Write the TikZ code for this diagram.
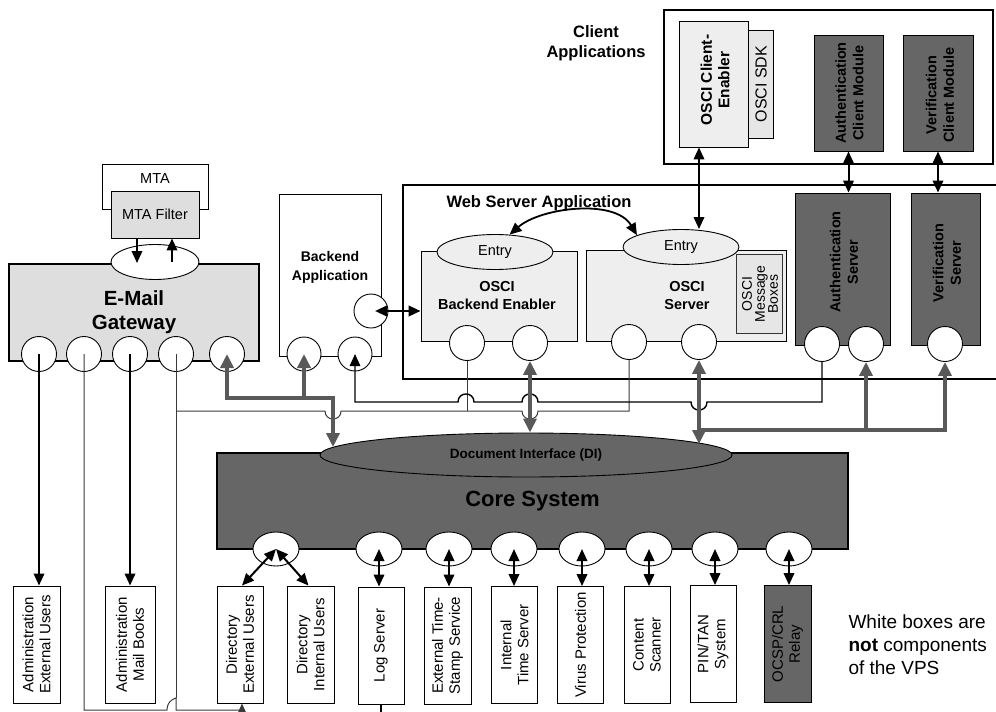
\documentclass[tikz,border=0pt]{standalone}
\usepackage{fontspec}
\setmainfont{Liberation Sans}
\usetikzlibrary{arrows.meta,shapes.geometric,calc}

\definecolor{paleFill}{HTML}{EEEEEE}
\definecolor{softFill}{HTML}{DEDEDE}
\definecolor{sdkFill}{HTML}{E6E6E6}
\definecolor{darkFill}{HTML}{666666}
\definecolor{pipeCol}{HTML}{595959}
\definecolor{wireCol}{HTML}{3A3A3A}

\newcommand{\fsz}[2]{\fontsize{#1}{#2}\selectfont}

\begin{document}
\begin{tikzpicture}[x=1pt,y=-1pt,
  box/.style={draw, line width=0.9pt, inner sep=0pt},
  heavybox/.style={draw, line width=2pt, inner sep=0pt},
  port/.style={circle, draw, fill=white, line width=0.9pt, minimum size=35pt, inner sep=0pt},
  cport/.style={ellipse, draw, fill=white, line width=0.9pt, minimum width=46pt, minimum height=34pt, inner sep=0pt},
  entry/.style={ellipse, draw, fill=paleFill, line width=0.9pt, minimum width=116pt, minimum height=35pt, inner sep=0pt, font=\fsz{14.5}{17}},
  vbox/.style={box, fill=white, minimum width=46pt, minimum height=117pt},
  vtxt/.style={rotate=90, align=center, font=\fsz{15}{17}},
  vbold/.style={rotate=90, align=center, font=\bfseries\fsz{14.5}{17.5}},
  btxt/.style={align=center, font=\bfseries\fsz{14.5}{18}},
  blk/.style={line width=2pt, draw=black, >={Triangle[length=12pt,width=10.5pt]}},
  wire/.style={line width=1pt, draw=wireCol, >={Triangle[length=12pt,width=10.5pt]}},
  pipe/.style={line width=4pt, draw=pipeCol, >={Triangle[length=14pt,width=13pt]}}
]
\useasboundingbox (0,0) rectangle (996,712);
\clip (0,0) rectangle (996,712);

% ---------- mail transfer agent ----------
\node[box, minimum width=106pt, minimum height=45pt] (mta) at (155,186.5) {};
\node[font=\fsz{14.5}{17}] (mta-t) at (155,179) {MTA};
\node[box, fill=softFill, minimum width=88pt, minimum height=47pt, font=\fsz{14.5}{17}] (mtaf) at (155,214.5) {MTA Filter};

% ---------- e-mail gateway ----------
\node[heavybox, fill=softFill, minimum width=250pt, minimum height=97pt, align=center,
      font=\bfseries\fsz{20.5}{23.5}] (gw) at (134,312) {E-Mail\\Gateway};
\node[ellipse, draw, fill=white, line width=0.9pt, minimum width=88pt, minimum height=35pt, inner sep=0pt] (gwin) at (155,262) {};
\node[port] (g1) at (39,354) {};
\node[port] (g2) at (84,354) {};
\node[port] (g3) at (130,354) {};
\node[port] (g4) at (176,354) {};
\node[port] (g5) at (227,354) {};

% ---------- backend application ----------
\node[box, minimum width=102pt, minimum height=162pt] (bapp) at (330,275) {};
\node[btxt, font=\bfseries\fsz{14}{19}] (bapp-t) at (330,267) {Backend\\Application};
\node[port, minimum size=34pt] (bside) at (371,311) {};
\node[port, minimum size=34pt] (bp1) at (304,354) {};
\node[port, minimum size=34pt] (bp2) at (355,354) {};

% ---------- web server application ----------
\node[heavybox, minimum width=607pt, minimum height=194pt] (wsa) at (706.5,282) {};
\node[anchor=west, font=\bfseries\fsz{16.5}{19}] (wsa-t) at (443,203) {Web Server Application};

\node[box, fill=paleFill, minimum width=156pt, minimum height=90pt] (obe) at (499,296) {};
\node[btxt] (obe-t) at (497,296) {OSCI\\Backend Enabler};
\node[entry] (bentry) at (495,252) {Entry};
\node[port] (be1) at (467,343) {};
\node[port] (be2) at (530,343) {};

\node[box, fill=paleFill, minimum width=200pt, minimum height=91pt] (osrv) at (686,295.5) {};
\node[btxt] (osrv-t) at (687,296) {OSCI\\Server};
\node[box, fill=sdkFill, draw=black!80, minimum width=46pt, minimum height=79pt] (omb) at (759,293.5) {};
\node[rotate=90, align=center, font=\fsz{14}{13}] (omb-t) at (760,294) {OSCI\\Message\\Boxes};
\node[entry] (sentry) at (681,247) {Entry};
\node[port] (sp1) at (629,342) {};
\node[port] (sp2) at (699,342) {};

\node[box, fill=darkFill, minimum width=95pt, minimum height=152pt] (asrv) at (842.5,269) {};
\node[vbold] (asrv-t) at (844,262) {Authentication\\Server};
\node[box, fill=darkFill, minimum width=69pt, minimum height=152pt] (vsrv) at (945.5,269) {};
\node[vbold] (vsrv-t) at (947,263) {Verification\\Server};
\node[port] (ap1) at (822,344) {};
\node[port] (ap2) at (866,344) {};
\node[port] (vp1) at (945,344) {};

% ---------- client applications ----------
\node[heavybox, minimum width=329pt, minimum height=154pt] (capp) at (828.5,87) {};
\node[btxt, font=\bfseries\fsz{16.5}{20}] (capp-t) at (596,43) {Client\\Applications};
\node[box, fill=sdkFill, minimum width=25pt, minimum height=108pt] (sdk) at (760.5,84) {};
\node[rotate=90, font=\fsz{16}{18}] (sdk-t) at (761,84) {OSCI SDK};
\node[box, fill=paleFill, minimum width=69pt, minimum height=126pt] (cen) at (713.5,84) {};
\node[vbold, font=\bfseries\fsz{15.5}{17.5}] (cen-t) at (715,80) {OSCI Client-\\Enabler};
\node[box, fill=darkFill, minimum width=69pt, minimum height=116pt] (acm) at (848.5,93) {};
\node[vbold] (acm-t) at (849.5,93) {Authentication\\Client Module};
\node[box, fill=darkFill, minimum width=70pt, minimum height=116pt] (vcm) at (938,93) {};
\node[vbold] (vcm-t) at (940,95) {Verification\\Client Module};

% ---------- core system ----------
\node[heavybox, fill=darkFill, minimum width=631pt, minimum height=96pt,
      font=\bfseries\fsz{22}{26}] (core) at (532.5,501) {Core System};
\node[ellipse, draw, fill=darkFill, line width=0.9pt, minimum width=412pt, minimum height=44pt,
      inner sep=0pt, font=\bfseries\fsz{13.5}{16}] (di) at (526,455) {Document Interface (DI)};
\node[cport] (cp1) at (276,549) {};
\node[cport] (cp2) at (379,549) {};
\node[cport] (cp3) at (449,549) {};
\node[cport] (cp4) at (514,549) {};
\node[cport] (cp5) at (582,549) {};
\node[cport] (cp6) at (649,549) {};
\node[cport] (cp7) at (715,549) {};
\node[cport] (cp8) at (789,549) {};

% ---------- external services ----------
\node[vbox, minimum width=47pt] (adminext) at (36.5,644.5) {};
\node[vtxt] (adminext-t) at (adminext) {Administration\\External Users};
\node[vbox, minimum width=50pt] (adminmail) at (130,644.5) {};
\node[vtxt] (adminmail-t) at (adminmail) {Administration\\Mail Books};
\node[vbox] (dirext) at (240,644.5) {};
\node[vtxt] (dirext-t) at (dirext) {Directory\\External Users};
\node[vbox, minimum width=47pt] (dirint) at (310.5,644.5) {};
\node[vtxt] (dirint-t) at (dirint) {Directory\\Internal Users};
\node[vbox] (log) at (381,645.5) {};
\node[vtxt] (log-t) at (log) {Log Server};
\node[vbox, minimum width=47pt] (extts) at (447.5,645.5) {};
\node[vtxt] (extts-t) at (extts) {External Time-\\Stamp Service};
\node[vbox] (ints) at (514.5,645) {};
\node[vtxt] (ints-t) at (ints) {Internal\\Time Server};
\node[vbox] (virus) at (580.5,645) {};
\node[vtxt] (virus-t) at (virus) {Virus Protection};
\node[vbox] (content) at (647,645) {};
\node[vtxt] (content-t) at (content) {Content\\Scanner};
\node[vbox] (pintan) at (713,644) {};
\node[vtxt] (pintan-t) at (pintan) {PIN/TAN\\System};
\node[vbox, fill=darkFill, minimum width=47pt] (ocsp) at (787.5,644) {};
\node[vtxt] (ocsp-t) at (ocsp) {OCSP/CRL\\Relay};

\node[anchor=west, align=left, font=\fsz{19}{23}] (legend) at (845,645)
  {White boxes are\\\textbf{not} components\\of the VPS};

% ================= connectors =================
% MTA filter <-> gateway inlet
\draw[blk,->] ($(mtaf.south)+(-18,0)$) -- ($(gwin.center)+(-18,1)$);
\draw[blk,->] ($(gwin.center)+(17,0)$) -- ($(mtaf.south)+(17,0)$);

% backend application <-> OSCI backend enabler
\draw[blk,<->,line width=2.5pt] ($(bside.center)+(4,0)$) -- (bside -| obe.west);

% client side links
\draw[blk,<->] (cen.south -| sp2) -- (sentry.north -| sp2);
\draw[blk,<->] (acm.south) -- (acm.south |- asrv.north);
\draw[blk,<->] (vcm.south) -- (vcm.south |- vsrv.north);

% entry to entry
\draw[blk,<->,line width=1.8pt] (bentry.50) .. controls +(31,-27) and +(-22,-37) .. (sentry.165);

% gateway to administration tools
\draw[blk,->] (g1.center) -- (g1 |- adminext.north);
\draw[blk,->] (g3.center) -- (g3 |- adminmail.north);

% gateway to external directory (runs along the bottom)
\coordinate (gbot) at (84,710);
\coordinate (dxin) at ($(dirext.south)+(2,0)$);
\draw[wire,->] (g2.center) -- (gbot) -- (167,710)
  .. controls (167,700) and (176,698) .. (176,698) -- (176,710) -- (dxin |- gbot) -- (dxin);
\draw[wire] (g4.center) -- (176,698);

% wire A: gateway / backend enabler / OSCI server
\coordinate (ya) at (0,411);
\draw[wire] (g4 |- ya) -- (325,411)
  .. controls (325,421.7) and (341,421.7) .. (341,411) -- (522,411)
  .. controls (522,421.7) and (538,421.7) .. (538,411) -- (sp1 |- ya) -- (sp1.south);
\draw[wire] (be1.south) -- (be1 |- ya);

% wire B: backend application / authentication server
\coordinate (yb) at (0,402);
\draw[wire,draw=black,line width=1.4pt,<-] (bp2.center) -- (bp2 |- yb) -- (458,402)
  .. controls (458,391.3) and (474,391.3) .. (474,402) -- (522,402)
  .. controls (522,391.3) and (538,391.3) .. (538,402) -- (691,402)
  .. controls (691,412.7) and (707,412.7) .. (707,402) -- (ap1 |- yb) -- (ap1.south);

% document interface pipes
\coordinate (j1) at (333,398);
\coordinate (diL) at (333,447);
\draw[pipe,<->] (g5.center) -- (g5 |- j1) -- (j1) -- (diL);
\draw[pipe,->] (bp1 |- j1) -- (bp1.center);
\draw[pipe,<->] (be2.south) -- (be2 |- di.north);
\coordinate (diR) at (699,444);
\draw[pipe,<->] (sp2.south) -- (diR);
\coordinate (j2) at (699,430);
\draw[pipe,->] (j2) -- (vp1 |- j2) -- (vp1.south);
\draw[pipe,->] (ap2 |- j2) -- (ap2.south);

% core system to services
\draw[blk,<->] (cp1.center) -- (dxin |- dirext.north);
\draw[blk,<->] (cp1.center) -- ($(dirint.north)+(-2,0)$);
\draw[blk,<->] (cp2.center) -- (cp2 |- log.north);
\draw[blk,<->] (cp3.center) -- (cp3 |- extts.north);
\draw[blk,<->] (cp4.center) -- (cp4 |- ints.north);
\draw[blk,<->] (cp5.center) -- (cp5 |- virus.north);
\draw[blk,<->] (cp6.center) -- (cp6 |- content.north);
\draw[blk,<->] (cp7.center) -- (cp7 |- pintan.north);
\draw[blk,<->] (cp8.center) -- (cp8 |- ocsp.north);
\draw[blk] (log.south) -- ++(0,15);
\end{tikzpicture}
\end{document}
